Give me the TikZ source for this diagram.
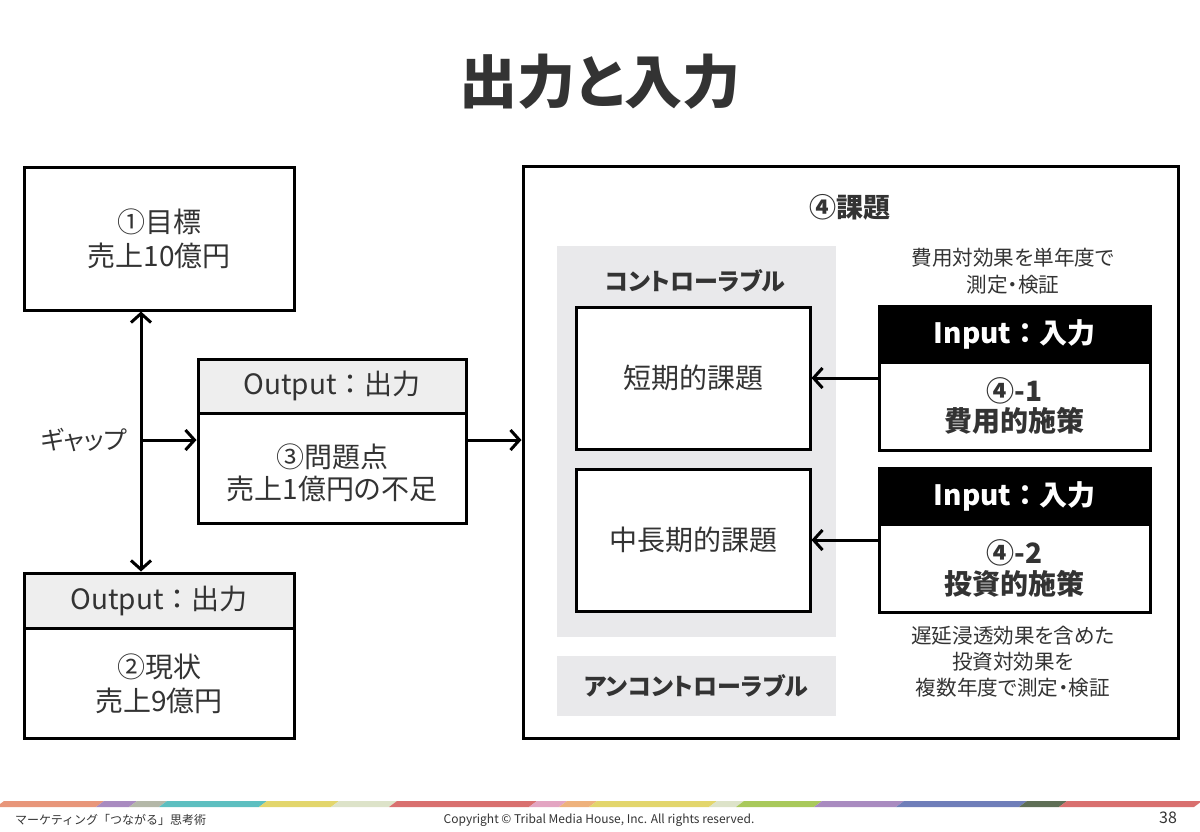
\documentclass[tikz,border=0pt]{standalone}
\usepackage{fontspec}
\setmainfont{Noto Sans CJK JP}[RawFeature=+palt]
\newfontfamily\jpwide{Noto Sans CJK JP}
\usepackage{tikz}
\usetikzlibrary{arrows.meta}
\definecolor{ink}{HTML}{333333}
\definecolor{headgray}{HTML}{EEEEEE}
\definecolor{panelgray}{HTML}{E9E9EB}
\definecolor{sal}{HTML}{E8967A}
\definecolor{pur}{HTML}{A98BC0}
\definecolor{gg}{HTML}{B4B8A8}
\definecolor{teal}{HTML}{5DBFC0}
\definecolor{yel}{HTML}{E3D66C}
\definecolor{pale}{HTML}{DDE3C9}
\definecolor{red}{HTML}{D9706F}
\definecolor{pink}{HTML}{E3A5C2}
\definecolor{ora}{HTML}{EEB27C}
\definecolor{grn}{HTML}{A9C95B}
\definecolor{blu}{HTML}{6F7EB9}
\definecolor{dgr}{HTML}{5F6F56}
\tikzstyle{every node}=[font=\fontsize{14pt}{17pt}\selectfont, text=ink, align=center]
\tikzstyle{box}=[draw=black, line width=1.5pt, inner sep=0pt]
\tikzstyle{head}=[box, fill=headgray, minimum height=27.5pt, font=\jpwide\fontsize{14pt}{17pt}\selectfont]
\tikzstyle{inhead}=[box, fill=black, text=white, minimum height=28pt, font=\jpwide\bfseries\fontsize{14pt}{17pt}\selectfont]
\tikzstyle{panel}=[fill=panelgray, inner sep=0pt, minimum width=139.5pt]
\tikzstyle{conn}=[line width=1.5pt, arrows={-Straight Barb[length=4.5pt,width=10pt,line width=1.5pt]}]
\tikzstyle{note}=[font=\fontsize{10.3pt}{13.5pt}\selectfont]

\begin{document}
\begin{tikzpicture}[x=0.5pt,y=-0.5pt]
\useasboundingbox (0,0) rectangle (1200,831);
\node[font=\bfseries\fontsize{29pt}{34pt}\selectfont] (title) at (600,82) {出力と入力};

% left side
\node[box, minimum width=135pt, minimum height=71.5pt] (goal) at (159,238.5) {①目標\\売上10億円};
\node[box, minimum width=135pt, minimum height=82.5pt] (now) at (159,655.5) {};
\node[head, minimum width=135pt, anchor=north] (nowhead) at (now.north) {Output：出力};
\node (nowtxt) at (159,684) {②現状\\売上9億円};

\node[box, minimum width=134pt, minimum height=82pt] (prob) at (332,441) {};
\node[head, minimum width=134pt, minimum height=27pt, anchor=north] (probhead) at (prob.north) {Output：出力};
\node[font=\fontsize{14pt}{16pt}\selectfont] (probtxt) at (332,473) {③問題点\\売上1億円の不足};

\coordinate (gap) at (141,440);
\node[font=\fontsize{12.5pt}{15pt}\selectfont] (gaplabel) at (84,440) {ギャップ};
\draw[conn, arrows={Straight Barb[length=4.5pt,width=10pt,line width=1.5pt]-Straight Barb[length=4.5pt,width=10pt,line width=1.5pt]}] (goal.south -| gap) -- (nowhead.north -| gap);
\draw[conn] (gap) -- (gap -| prob.west);

% right side
\node[box, minimum width=327.5pt, minimum height=286pt] (issue) at (850.5,452) {};
\draw[conn] (prob.east |- gap) -- (issue.west |- gap);
\node[font=\bfseries\fontsize{13.5pt}{16pt}\selectfont] (issuetitle) at (850,207) {④課題};

\node[panel, minimum height=195.5pt] (ctrl) at (696.5,441.5) {};
\node[font=\bfseries\fontsize{12pt}{14pt}\selectfont] (ctrltitle) at (695,281) {コントローラブル};
\node[box, fill=white, minimum width=117pt, minimum height=71pt] (short) at (693,378) {短期的課題};
\node[box, fill=white, minimum width=117pt, minimum height=71pt] (mid) at (693,540) {中長期的課題};
\node[panel, minimum height=30pt, font=\bfseries\fontsize{12pt}{14pt}\selectfont] (unctrl) at (696.5,686) {アンコントローラブル};

\node[note] (note1) at (1013,271) {費用対効果を単年度で\\測定・検証};
\node[box, minimum width=135.5pt, minimum height=72pt] (cost) at (1014.5,378) {};
\node[inhead, minimum width=135.5pt, anchor=north] (costhead) at (cost.north) {Input：入力};
\node[font=\bfseries\fontsize{14pt}{15pt}\selectfont] (costtxt) at (1014.5,406) {④-1\\費用的施策};
\node[box, minimum width=135.5pt, minimum height=72pt] (inv) at (1014.5,540) {};
\node[inhead, minimum width=135.5pt, anchor=north] (invhead) at (inv.north) {Input：入力};
\node[font=\bfseries\fontsize{14pt}{15.5pt}\selectfont] (invtxt) at (1014.5,568) {④-2\\投資的施策};
\node[note, font=\fontsize{10.3pt}{13pt}\selectfont] (note2) at (1013,662) {遅延浸透効果を含めた\\投資対効果を\\複数年度で測定・検証};

\draw[conn] (cost.west) -- (short.east);
\draw[conn] (inv.west) -- (mid.east);

% footer
\foreach \a/\b/\c in {0/100/sal, 100/133/pur, 133/163/gg, 163/263/teal, 263/335/yel, 335/393/pale,
  393/533/red, 533/563/pink, 563/593/ora, 593/713/yel, 713/740/pale, 740/818/grn,
  818/900/pur, 900/1023/blu, 1023/1063/dgr, 1063/1198/red}
  \fill[\c] (\a-4,807) -- (\a+4,801) -- (\b+4,801) -- (\b-4,807) -- cycle;
\node[anchor=west, font=\jpwide\fontsize{6pt}{7pt}\selectfont] (book) at (8,820) {マーケティング「つながる」思考術};
\node[font=\fontsize{6pt}{7pt}\selectfont] (copy) at (599,820) {Copyright © Tribal Media House, Inc. All rights reserved.};
\node[font=\fontsize{8pt}{9pt}\selectfont] (page) at (1168,818) {38};
\end{tikzpicture}
\end{document}
